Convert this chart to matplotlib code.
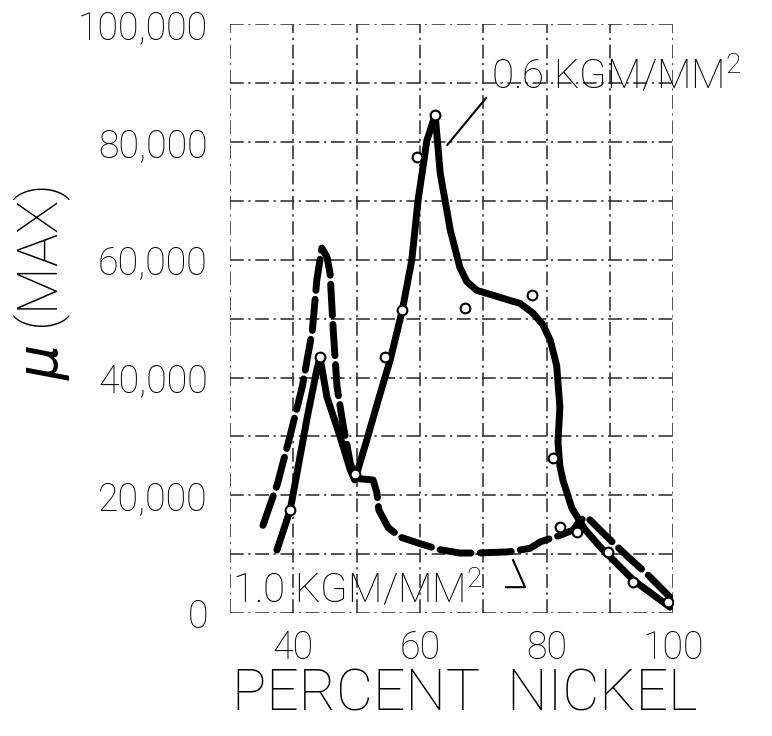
import matplotlib.pyplot as plt
from matplotlib.ticker import FuncFormatter, MultipleLocator

# permeability peak vs nickel content, two stress levels
# 0.6 kgm/mm2 (solid)
solid_ni = [37.4, 39.5, 42.2, 43.7, 44.2, 45.3, 47.4, 49.0, 49.7, 51.6, 53.5, 55.3,
            57.2, 58.7, 59.7, 61.1, 62.4, 63.2, 64.8, 66.3, 67.4, 69.0, 71.5, 74.2,
            75.8, 77.9, 79.4, 80.6, 81.6, 82.1, 81.8, 82.1, 82.6, 84.0, 86.0, 88.5,
            93.7, 99.5]
solid_mu = [10700, 17500, 33300, 41300, 43500, 36700, 29900, 24300, 22600, 29400, 36500, 43000,
            51400, 59900, 70100, 80300, 84600, 74700, 65000, 58700, 56300, 54800, 54000, 53100,
            52600, 50900, 49000, 46300, 42000, 35000, 29000, 25000, 22500, 17800, 14300, 11200,
            5600, 1000]

# 1.0 kgm/mm2 (dashed)
dash_ni = [35.2, 37.5, 39.5, 41.4, 43.0, 43.7, 44.5, 45.3, 45.8, 46.3, 46.9, 47.8,
           49.0, 49.7, 52.6, 53.2, 53.5, 55.0, 56.9, 60.0, 63.0, 66.3, 69.0, 74.0,
           77.4, 79.0, 82.1, 84.2, 85.3, 86.4, 89.5, 92.9, 96.0, 99.5]
dash_mu = [14900, 22000, 30200, 38400, 48000, 56500, 62000, 60500, 57700, 48000, 38400, 32300,
           25500, 22900, 22600, 20400, 17500, 14500, 12900, 11800, 10800, 10200, 10200, 10400,
           11000, 12100, 13200, 14100, 15800, 16300, 13000, 9500, 6500, 2700]

# measured points
pts_ni = [39.5, 44.2, 49.7, 54.5, 57.2, 59.5, 62.4, 67.1, 77.7, 81.0, 82.1, 84.8, 89.7, 93.7, 99.2]
pts_mu = [17500, 43500, 23600, 43500, 51400, 77400, 84600, 51800, 54000, 26300, 14600, 13800,
          10400, 5300, 1900]

x_ticks = [40, 60, 80, 100]
y_ticks = [0, 20000, 40000, 60000, 80000, 100000]

plt.rcParams['font.family'] = ['Roboto', 'DejaVu Sans']
plt.rcParams['font.weight'] = 'light'
plt.rcParams['axes.labelweight'] = 'light'
plt.rcParams['mathtext.fontset'] = 'custom'
plt.rcParams['mathtext.rm'] = 'Roboto:light'
plt.rcParams['mathtext.it'] = 'DejaVu Sans:italic'

fig = plt.figure(figsize=(7.72, 7.36), dpi=100)
ax = fig.add_axes([0.298, 0.167, 0.574, 0.800])

ax.plot(solid_ni, solid_mu, color='black', lw=5, solid_capstyle='round',
        solid_joinstyle='round', zorder=3)
ax.plot(dash_ni, dash_mu, color='black', lw=5, dashes=(4.5, 1.3),
        dash_capstyle='round', zorder=3)
ax.plot(pts_ni, pts_mu, 'o', ms=7, mfc='white', mec='black', mew=1.5, zorder=4)

ax.set_xlim(30, 100)
ax.set_ylim(0, 100000)
ax.set_xticks(x_ticks)
ax.set_yticks(y_ticks)
ax.xaxis.set_minor_locator(MultipleLocator(10))
ax.yaxis.set_minor_locator(MultipleLocator(10000))
ax.xaxis.set_major_formatter(FuncFormatter(lambda v, p: f'{int(v)}'))
ax.yaxis.set_major_formatter(FuncFormatter(lambda v, p: f'{int(v):,}'))
ax.grid(True, which='both', color='0.15', lw=1.1, linestyle=(0, (9, 3, 1.5, 3)))
for s in ax.spines.values():
    s.set_visible(False)
ax.tick_params(which='both', length=0)
ax.tick_params(labelsize=27, labelcolor='black')
ax.tick_params(axis='x', pad=12)
ax.tick_params(axis='y', pad=16)

ax.set_xlabel('PERCENT  NICKEL', fontsize=41)
ax.xaxis.label.set_va('center')
ax.xaxis.set_label_coords(0.53, -0.139)
ax.set_ylabel(r'$\mu$ (MAX)', fontsize=40)
ax.yaxis.label.set_va('center')
ax.yaxis.set_label_coords(-0.425, 0.56)

ax.annotate('0.6 KGM/MM$^2$', xy=(64.3, 79500), xytext=(71.2, 91300),
            fontsize=29, va='center', ha='left',
            annotation_clip=False,
            arrowprops=dict(arrowstyle='-', lw=1.5, color='black',
                            relpos=(0, 0.1), shrinkA=2, shrinkB=0))

ax.text(30.3, 3900, '1.0 KGM/MM$^2$', fontsize=29,
        va='center', ha='left', zorder=5)
ax.plot([73.6, 76.6, 74.7], [4400, 4400, 9000], color='black', lw=1.5, zorder=5)

fig.savefig('out.png', dpi=100, facecolor='white')
